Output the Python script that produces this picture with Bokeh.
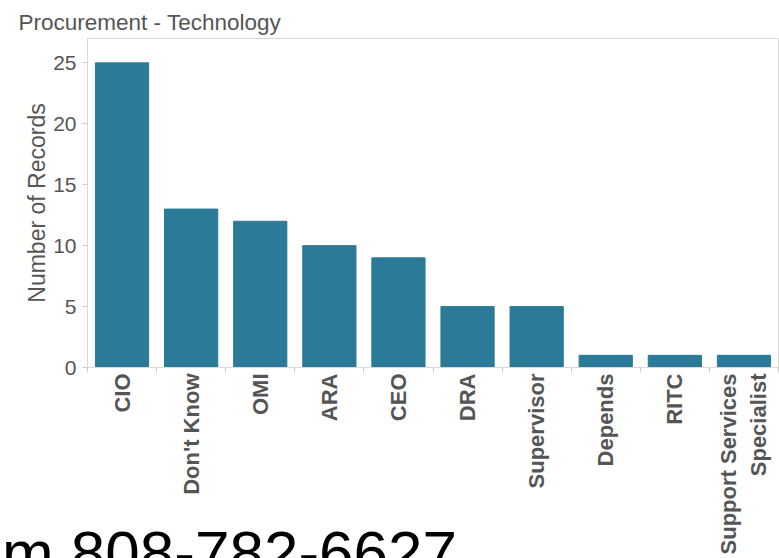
from bokeh.plotting import figure
from bokeh.models import Range1d, FixedTicker, Div
from bokeh.layouts import column
from bokeh.embed import file_html
from bokeh.resources import INLINE

categories = ["CIO", "Don't Know", "OMI", "ARA", "CEO", "DRA", "Supervisor",
              "Depends", "RITC", "Support Services\nSpecialist"]
records = [25, 13, 12, 10, 9, 5, 5, 1, 1, 1]
y_ticks = [0, 5, 10, 15, 20, 25]
footer_text = "m 808-782-6627"

FONT = "Liberation Sans"
GRAY = "#555555"
BAR = "#2a7a98"

n = len(categories)
xs = [i + 0.5 for i in range(n)]

p = figure(output_backend="svg", toolbar_location=None,
           frame_width=691, frame_height=329,
           min_border_left=87, min_border_right=1, min_border_top=38, min_border_bottom=191,
           x_range=Range1d(0, n), y_range=Range1d(0, 27))

p.vbar(x=xs, top=records, width=0.77, bottom=0, color=BAR)

p.title.text = "Procurement - Technology"
p.title.text_font = FONT
p.title.text_font_size = "22.5px"
p.title.text_font_style = "normal"
p.title.text_color = GRAY
p.title.offset = -69
p.title.standoff = 7

p.outline_line_color = "#d9d9d9"
p.grid.visible = False

xa = p.xaxis[0]
xa.ticker = FixedTicker(ticks=xs, minor_ticks=list(range(n + 1)))
xa.major_label_overrides = {x: c for x, c in zip(xs, categories)}
xa.major_label_orientation = 3.14159265 / 2
xa.major_label_text_font = FONT
xa.major_label_text_font_size = "22px"
xa.major_label_text_font_style = "bold"
xa.major_label_text_color = GRAY
xa.major_tick_line_color = None
xa.major_tick_out = 0
xa.major_tick_in = 0
xa.minor_tick_line_color = "#cccccc"
xa.minor_tick_out = 5
xa.minor_tick_in = 0
xa.axis_line_color = "#d9d9d9"
xa.major_label_standoff = 1

ya = p.yaxis[0]
ya.ticker = FixedTicker(ticks=y_ticks)
ya.major_label_text_font = FONT
ya.major_label_text_font_size = "21px"
ya.major_label_text_color = GRAY
ya.major_tick_line_color = "#cccccc"
ya.major_tick_out = 5
ya.major_tick_in = 0
ya.minor_tick_line_color = None
ya.axis_line_color = "#d9d9d9"
ya.axis_label = "Number of Records"
ya.axis_label_text_font = FONT
ya.axis_label_text_font_size = "23px"
ya.axis_label_text_font_style = "normal"
ya.axis_label_text_color = GRAY
ya.major_label_standoff = 6
ya.axis_label_standoff = 0

footer = Div(text=footer_text, width=777, height=36, margin=(-36, 0, 0, 2),
             styles={"font-family": FONT, "font-size": "62px", "line-height": "1",
                     "color": "#000000", "white-space": "nowrap", "overflow": "hidden"})

layout = column(p, footer, spacing=0)

open("out.html", "w").write(file_html(layout, INLINE))
